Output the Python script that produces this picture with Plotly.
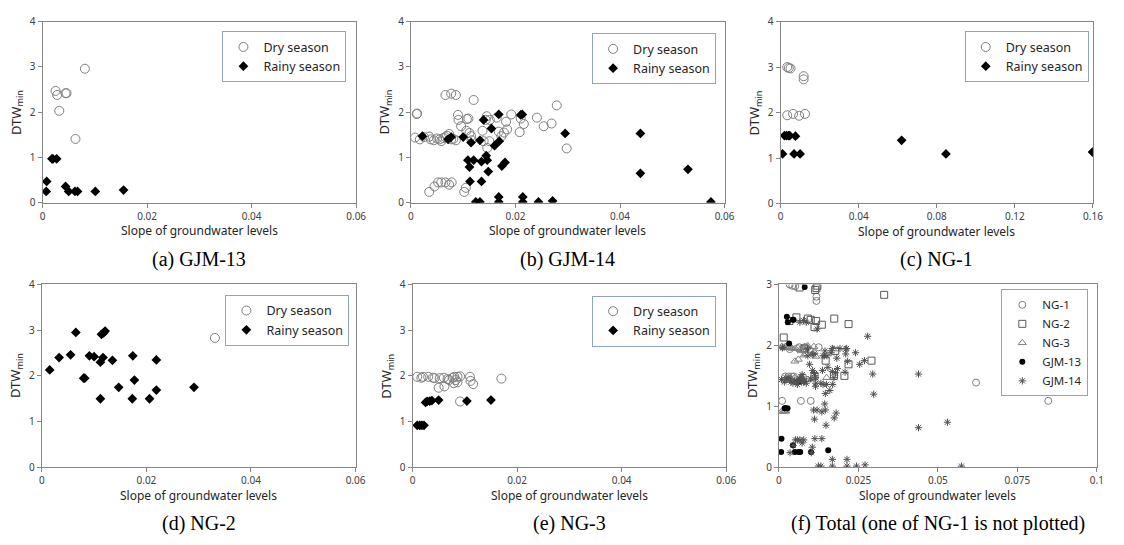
import plotly.graph_objects as go

# ---------------- data ----------------
# (a) GJM-13
gjm13_dry_x = [0.0025, 0.0028, 0.0044, 0.0046, 0.0032, 0.0063, 0.0081]
gjm13_dry_y = [2.47, 2.38, 2.42, 2.42, 2.03, 1.41, 2.96]
gjm13_rainy_x = [0.0007, 0.0008, 0.0018, 0.0020, 0.0027, 0.0044, 0.0050, 0.0062, 0.0067, 0.0101, 0.0155]
gjm13_rainy_y = [0.25, 0.47, 0.97, 0.97, 0.97, 0.36, 0.25, 0.25, 0.25, 0.25, 0.28]

# (b) GJM-14
gjm14_dry_x = [0.0008, 0.0017, 0.0025, 0.0035, 0.0038, 0.0044, 0.0050, 0.0055, 0.0058, 0.0062,
               0.0066, 0.0069, 0.0073, 0.0077, 0.0081, 0.0086,
               0.0011, 0.0012, 0.0066, 0.0077, 0.0086, 0.0120,
               0.0090, 0.0091, 0.0096, 0.0107, 0.0110, 0.0106, 0.0112, 0.0115, 0.0116,
               0.0137, 0.0139, 0.0145, 0.0143, 0.0151, 0.0146, 0.0150,
               0.0164, 0.0168, 0.0173, 0.0178, 0.0182, 0.0184, 0.0192,
               0.0208, 0.0210, 0.0216, 0.0241, 0.0254, 0.0269, 0.0279, 0.0298,
               0.0035, 0.0045, 0.0052, 0.0058, 0.0066, 0.0073, 0.0078, 0.0102, 0.0105]
gjm14_dry_y = [1.44, 1.40, 1.45, 1.46, 1.40, 1.38, 1.42, 1.40, 1.36, 1.43,
               1.45, 1.48, 1.52, 1.40, 1.41, 1.38,
               1.96, 1.97, 2.38, 2.41, 2.38, 2.27,
               1.94, 1.83, 1.69, 1.85, 1.86, 1.59, 1.54, 1.47, 1.38,
               1.59, 1.36, 1.91, 1.83, 1.83, 1.21, 1.36,
               1.88, 1.57, 1.47, 1.55, 1.79, 1.62, 1.95,
               1.56, 1.86, 1.74, 1.88, 1.69, 1.75, 2.15, 1.20,
               0.24, 0.36, 0.45, 0.45, 0.45, 0.40, 0.45, 0.24, 0.33]
gjm14_rainy_x = [0.0022, 0.0071, 0.0077, 0.0100, 0.0115, 0.0132, 0.0109, 0.0112, 0.0120, 0.0135,
                 0.0144, 0.0146, 0.0148, 0.0135, 0.0113, 0.0139, 0.0154, 0.0160, 0.0169, 0.0168,
                 0.0174, 0.0180, 0.0210, 0.0213, 0.0295, 0.0439, 0.0439, 0.0530, 0.0574,
                 0.0124, 0.0132, 0.0168, 0.0168, 0.0214, 0.0214, 0.0244, 0.0271]
gjm14_rainy_y = [1.47, 1.40, 1.45, 1.45, 1.33, 1.38, 0.94, 0.79, 0.94, 0.91,
                 1.04, 0.94, 0.69, 0.47, 0.47, 1.83, 1.64, 1.26, 1.36, 1.95,
                 0.81, 0.89, 1.94, 1.95, 1.53, 1.53, 0.65, 0.74, 0.02,
                 0.02, 0.02, 0.13, 0.02, 0.13, 0.02, 0.02, 0.04]

# (c) NG-1
ng1_dry_x = [0.0034, 0.0042, 0.0051, 0.0118, 0.0118, 0.0034, 0.0064, 0.0095, 0.0125]
ng1_dry_y = [3.00, 2.98, 2.97, 2.80, 2.73, 1.94, 1.97, 1.93, 1.97]
ng1_rainy_x = [0.0010, 0.0020, 0.0030, 0.0040, 0.0047, 0.0076, 0.0069, 0.0100, 0.0620, 0.0847, 0.1598]
ng1_rainy_y = [1.09, 1.49, 1.49, 1.49, 1.49, 1.48, 1.09, 1.09, 1.39, 1.09, 1.13]

# (d) NG-2
ng2_dry_x = [0.0331]
ng2_dry_y = [2.83]
ng2_rainy_x = [0.0015, 0.0033, 0.0055, 0.0065, 0.0080, 0.0082, 0.0091, 0.0100, 0.0112, 0.0112,
               0.0114, 0.0117, 0.0118, 0.0121, 0.0135, 0.0147, 0.0173, 0.0174, 0.0177, 0.0206,
               0.0219, 0.0219, 0.0291]
ng2_rainy_y = [2.13, 2.40, 2.46, 2.95, 1.95, 1.95, 2.44, 2.42, 2.30, 1.50,
               2.91, 2.40, 2.94, 2.98, 2.34, 1.75, 1.50, 2.44, 1.91, 1.50,
               1.69, 2.35, 1.75]

# (e) NG-3
ng3_dry_x = [0.0009, 0.0017, 0.0020, 0.0030, 0.0039, 0.0042, 0.0052, 0.0060, 0.0067, 0.0070,
             0.0077, 0.0080, 0.0083, 0.0086, 0.0091, 0.0079, 0.0086, 0.0050, 0.0061, 0.0110,
             0.0111, 0.0116, 0.0170, 0.0091]
ng3_dry_y = [1.98, 1.96, 1.98, 1.98, 1.96, 1.95, 1.95, 1.96, 1.93, 1.91,
             1.96, 1.98, 1.91, 1.98, 1.99, 1.84, 1.86, 1.74, 1.77, 1.98,
             1.89, 1.82, 1.94, 1.44]
ng3_rainy_x = [0.0009, 0.0014, 0.0018, 0.0022, 0.0025, 0.0028, 0.0033, 0.0037, 0.0050, 0.0104, 0.0150]
ng3_rainy_y = [0.92, 0.92, 0.92, 0.92, 1.42, 1.44, 1.45, 1.46, 1.47, 1.45, 1.47]

# axis ticks
x_ticks_std = [0, 0.02, 0.04, 0.06]
x_ticks_std_text = ["0", "0.02", "0.04", "0.06"]
x_ticks_ng1 = [0, 0.04, 0.08, 0.12, 0.16]
x_ticks_ng1_text = ["0", "0.04", "0.08", "0.12", "0.16"]
x_ticks_total = [0, 0.025, 0.05, 0.075, 0.1]
x_ticks_total_text = ["0", "0.025", "0.05", "0.075", "0.1"]
y_ticks_std = [0, 1, 2, 3, 4]
y_ticks_total = [0, 1, 2, 3]

captions = ["(a) GJM-13", "(b) GJM-14", "(c) NG-1", "(d) NG-2", "(e) NG-3",
            "(f) Total (one of NG-1 is not plotted)"]
season_names = ["Dry season", "Rainy season"]
total_names = ["NG-1", "NG-2", "NG-3", "GJM-13", "GJM-14"]

# ---------------- layout geometry ----------------
W, H = 1124, 545
# pixel boxes of plot areas: (x0, x1, ytop, ybottom)
boxes = [
    (40.0, 357.3, 14.0, 200.3),
    (412.7, 730.0, 14.0, 200.3),
    (786.7, 1102.7, 14.0, 201.0),
    (39.3, 356.7, 284.3, 472.3),
    (414.3, 731.7, 284.3, 472.3),
    (785.0, 1106.7, 284.3, 472.3),
]
legend_pos = [
    (222.0, 24.0), (596.0, 26.0), (973.0, 24.0),
    (225.0, 295.0), (596.0, 295.7), (1010.0, 289.3),
]

AX_COLOR = "#868686"
TICK_FONT = dict(family="Noto Sans", size=10, color="#404040")
LABEL_FONT = dict(family="Noto Sans", size=12, color="#262626")

fig = go.Figure()

dry_marker = dict(symbol="circle-open", size=9, color="#7f7f7f", line=dict(width=1))
rainy_marker = dict(symbol="diamond", size=7.5, color="black")

panels = [
    (gjm13_dry_x, gjm13_dry_y, gjm13_rainy_x, gjm13_rainy_y),
    (gjm14_dry_x, gjm14_dry_y, gjm14_rainy_x, gjm14_rainy_y),
    (ng1_dry_x, ng1_dry_y, ng1_rainy_x, ng1_rainy_y),
    (ng2_dry_x, ng2_dry_y, ng2_rainy_x, ng2_rainy_y),
    (ng3_dry_x, ng3_dry_y, ng3_rainy_x, ng3_rainy_y),
]

def suffix(i):
    return "" if i == 0 else str(i + 1)

for i, (dx, dy, rx, ry) in enumerate(panels):
    s = suffix(i)
    leg = "legend" + s
    fig.add_trace(go.Scatter(x=dx, y=dy, mode="markers", name=season_names[0],
                             marker=dry_marker, xaxis="x" + s, yaxis="y" + s, legend=leg))
    fig.add_trace(go.Scatter(x=rx, y=ry, mode="markers", name=season_names[1],
                             marker=rainy_marker, xaxis="x" + s, yaxis="y" + s, legend=leg))

# (f) total
total_data = [
    (ng1_dry_x + ng1_rainy_x, ng1_dry_y + ng1_rainy_y,
     dict(symbol="circle-open", size=7, color="#7f7f7f", line=dict(width=1))),
    (ng2_dry_x + ng2_rainy_x, ng2_dry_y + ng2_rainy_y,
     dict(symbol="square-open", size=7, color="#595959", line=dict(width=1))),
    (ng3_dry_x + ng3_rainy_x, ng3_dry_y + ng3_rainy_y,
     dict(symbol="triangle-up-open", size=7, color="#7f7f7f", line=dict(width=1))),
    (gjm13_dry_x + gjm13_rainy_x, gjm13_dry_y + gjm13_rainy_y,
     dict(symbol="circle", size=6, color="black")),
    (gjm14_dry_x + gjm14_rainy_x, gjm14_dry_y + gjm14_rainy_y,
     dict(symbol="asterisk-open", size=6, color="#505050", line=dict(width=1, color="#505050"))),
]
for name, (tx, ty, mk) in zip(total_names, total_data):
    fig.add_trace(go.Scatter(x=tx, y=ty, mode="markers", name=name, marker=mk,
                             xaxis="x6", yaxis="y6", legend="legend6"))

layout = dict(
    width=W, height=H, margin=dict(l=0, r=0, t=0, b=0),
    paper_bgcolor="white", plot_bgcolor="white",
    showlegend=True,
)

xticks = [(x_ticks_std, x_ticks_std_text)] * 2 + [(x_ticks_ng1, x_ticks_ng1_text)] + \
         [(x_ticks_std, x_ticks_std_text)] * 2 + [(x_ticks_total, x_ticks_total_text)]
yticks = [y_ticks_std] * 5 + [y_ticks_total]

annotations = []
for i, (x0, x1, yt, yb) in enumerate(boxes):
    s = suffix(i)
    tv, tt = xticks[i]
    yv = yticks[i]
    layout["xaxis" + s] = dict(
        domain=[x0 / W, x1 / W], anchor="y" + s, range=[tv[0], tv[-1]],
        tickvals=tv, ticktext=tt, showgrid=False, zeroline=False,
        showline=True, linecolor=AX_COLOR, linewidth=1, mirror=True,
        ticks="outside", ticklen=4, tickcolor=AX_COLOR, tickfont=TICK_FONT,
    )
    layout["yaxis" + s] = dict(
        domain=[1 - yb / H, 1 - yt / H], anchor="x" + s, range=[yv[0], yv[-1]],
        tickvals=yv, ticktext=[str(v) for v in yv], showgrid=False, zeroline=False,
        showline=True, linecolor=AX_COLOR, linewidth=1, mirror=True,
        ticks="outside", ticklen=4, tickcolor=AX_COLOR, tickfont=TICK_FONT,
    )
    lx, ly = legend_pos[i]
    legfont = dict(family="Noto Sans", size=12.5 if i < 5 else 11.5, color="#262626")
    layout["legend" + s] = dict(
        x=lx / W, y=1 - ly / H, xanchor="left", yanchor="top",
        xref="paper", yref="paper",
        bgcolor="white", bordercolor="#8EA4C6", borderwidth=1,
        font=legfont, itemwidth=30, tracegroupgap=0,
    )
    # x-axis title
    annotations.append(dict(text="Slope of groundwater levels", x=(x0 + x1) / 2 / W,
                            y=1 - (yb + 29) / H, xref="paper", yref="paper",
                            xanchor="center", yanchor="middle", showarrow=False,
                            font=LABEL_FONT))
    # y-axis title
    annotations.append(dict(text="DTW<sub>min</sub>", x=(x0 - 26) / W,
                            y=1 - (yt + yb) / 2 / H, xref="paper", yref="paper",
                            xanchor="center", yanchor="middle", showarrow=False,
                            textangle=-90, font=dict(family="Noto Sans", size=13, color="#262626")))
    # caption
    annotations.append(dict(text=captions[i], x=(x0 + x1) / 2 / W,
                            y=1 - (yb + 58) / H, xref="paper", yref="paper",
                            xanchor="center", yanchor="middle", showarrow=False,
                            font=dict(family="Liberation Serif", size=20, color="black")))

layout["annotations"] = annotations
fig.update_layout(**layout)
fig.write_html("out.html")
